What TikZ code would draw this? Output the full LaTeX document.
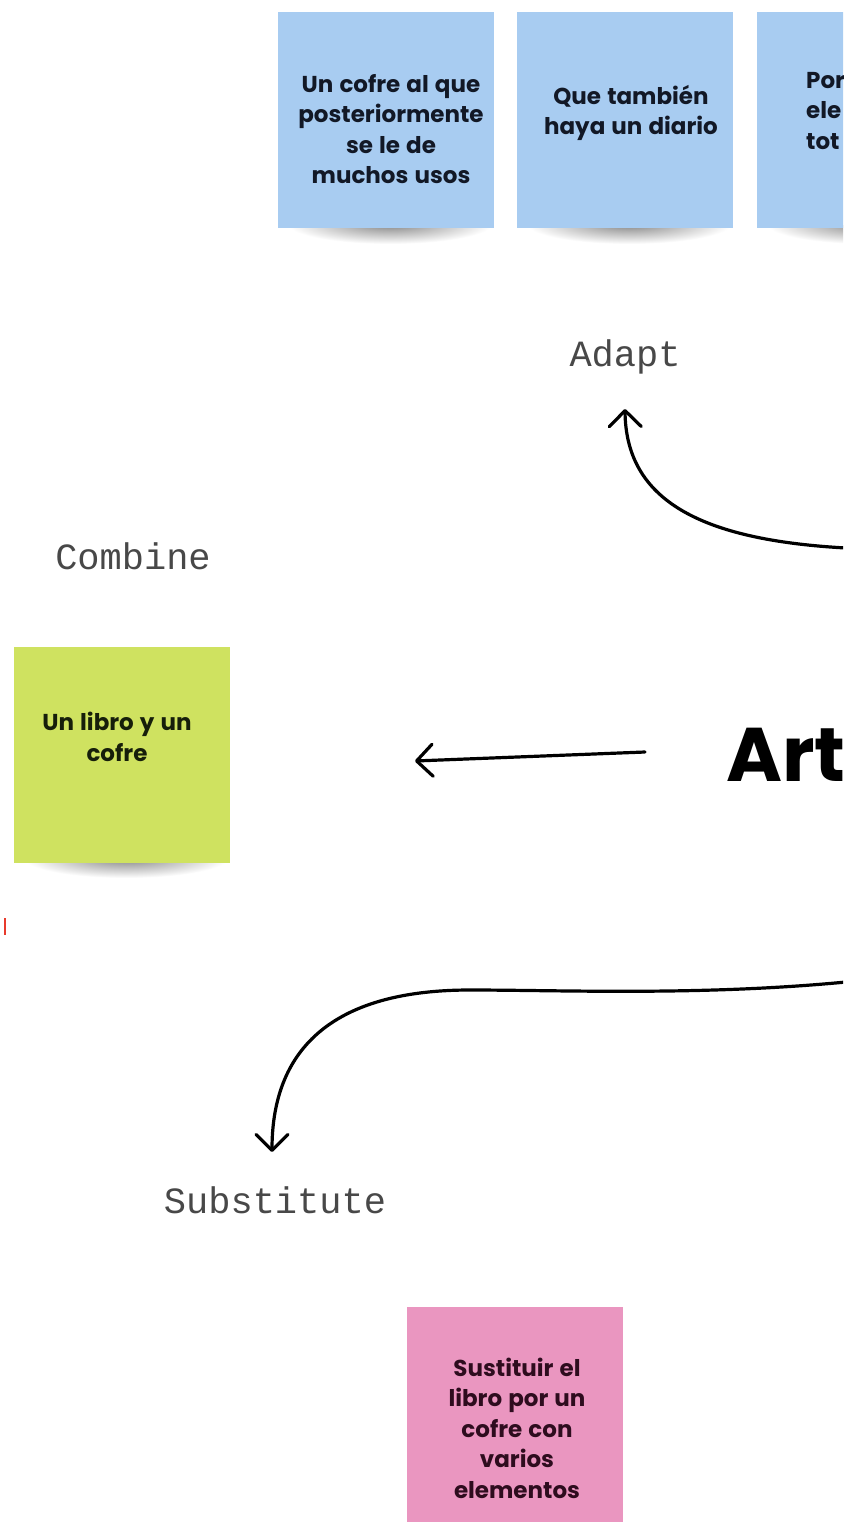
\documentclass[tikz,border=0pt]{standalone}
\usepackage{fontspec}
\setmainfont{Poppins}
\newfontfamily\notefont{Poppins}[WordSpace={1.25}]
\newfontfamily\labelfont{Liberation Mono}
\usetikzlibrary{arrows.meta,calc}

\definecolor{noteblue}{RGB}{168,204,241}
\definecolor{notegreen}{RGB}{207,226,96}
\definecolor{notepink}{RGB}{234,150,192}
\definecolor{inkblue}{RGB}{18,24,38}
\definecolor{inkgreen}{RGB}{22,30,10}
\definecolor{inkpink}{RGB}{46,12,30}
\definecolor{labelgray}{RGB}{72,72,72}
\definecolor{markred}{RGB}{232,58,44}

\tikzset{
  note/.style={minimum width=216pt, minimum height=216pt, inner sep=0pt, fill=#1},
  notetext/.style={font=\notefont\bfseries\fontsize{23}{30.5}\selectfont, align=center, inner sep=0pt},
  steplabel/.style={font=\labelfont\fontsize{37}{40}\selectfont, text=labelgray, inner sep=0pt},
  hub/.style={font=\notefont\bfseries\fontsize{76}{80}\selectfont, inner sep=0pt},
  link/.style={line width=3.2pt, line cap=round,
    -{Straight Barb[length=16pt,width=32pt,line width=3.2pt,round]}},
}

% soft drop shadow under the bottom edge of a sticky note: centre x, bottom y, half width
\newcommand\notedrop[3]{%
  \begin{scope}
    \clip (#1-#3-30,#2) rectangle (#1+#3+30,#2+40);
    \shade[inner color=black!48, outer color=white] (#1+4,#2-2) ellipse [x radius=#3, y radius=20];
  \end{scope}}

\begin{document}
\begin{tikzpicture}[x=1pt,y=-1pt]
  \useasboundingbox (0,0) rectangle (843,1522);
  \clip (0,0) rectangle (843,1522);
  \fill[white] (0,0) rectangle (843,1522);

  % shadows first, notes on top
  \notedrop{386}{226}{102}
  \notedrop{625}{226}{102}
  \notedrop{865}{226}{102}
  \notedrop{122}{860}{102}

  % Adapt notes
  \node[note=noteblue] (ad1) at (386,120) {};
  \node[note=noteblue] (ad2) at (624.5,120) {};
  \node[note=noteblue] (ad3) at (865,120) {};
  \node[notetext, text=inkblue] (ad1t) at (391,129)
    {Un cofre al que\\posteriormente\\se le de\\muchos usos};
  \node[notetext, text=inkblue] (ad2t) at (631,113)
    {Que también\\haya un diario};
  \node[notetext, text=inkblue, align=left, anchor=north west] (ad3t) at (806,72)
    {Por\\ele\\tot};

  % step labels
  \node[steplabel] (adapt) at (625,357) {Adapt};
  \node[steplabel] (combine) at (133,556) {Combine};
  \node[steplabel] (subst) at (275,1200) {Substitute};

  % Combine note
  \node[note=notegreen] (cb1) at (122,754.5) {};
  \node[notetext, text=inkgreen] (cb1t) at (117,737) {Un libro y un\\cofre};

  % Substitute note
  \node[note=notepink] (sb1) at (514.5,1415) {};
  \node[notetext, text=inkpink] (sb1t) at (517,1428)
    {Sustituir el\\libro por un\\cofre con\\varios\\elementos};

  % central topic
  \node[hub, anchor=base west] (art) at (726,781) {Art};

  % connectors from the central topic
  \coordinate (adaptFrom) at (846,548);
  \coordinate (substFrom) at (846,982);
  \coordinate (combFrom) at (645,752);
  \coordinate (combTo) at (415,761);

  \draw[link] (adaptFrom) .. controls (700,540) and (626,500) .. ($(adapt.center)+(0,52)$);
  \draw[link] (combFrom) -- (combTo);
  \draw[link] (substFrom) .. controls (700,996) and (560,990) .. (470,990)
    .. controls (320,990) and ($(subst.center)+(-3,-140)$) .. ($(subst.center)+(-3,-48)$);

  % small red tick at the left edge
  \draw[markred, line width=2.2pt] (5,918) -- (5,935);
\end{tikzpicture}
\end{document}
